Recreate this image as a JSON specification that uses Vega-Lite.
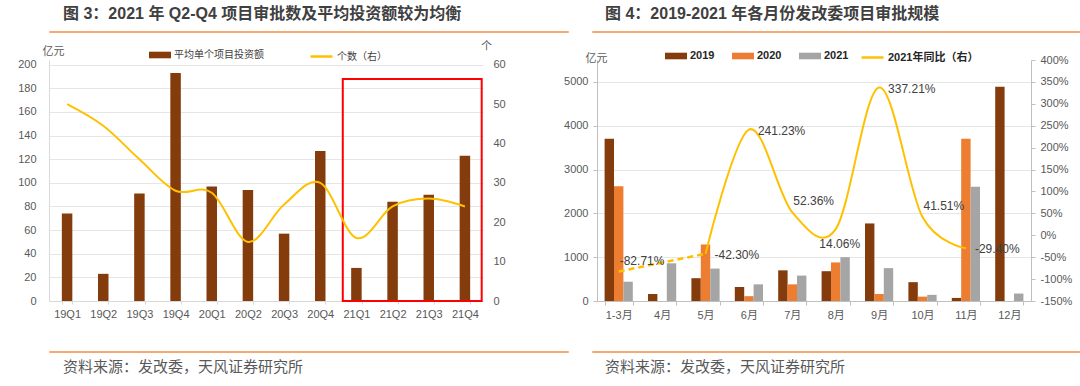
{
  "$schema": "https://vega.github.io/schema/vega-lite/v6.json",
  "padding": {"left": 8, "top": 5, "right": 0, "bottom": 0},
  "config": {
    "font": "Liberation Sans Narrow, Liberation Sans, Noto Sans CJK SC, sans-serif",
    "locale": {"number": {"decimal": ".", "thousands": ",", "grouping": [3], "currency": ["", ""], "minus": "-"}},
    "axis": {"labelColor": "#595959", "labelFontSize": 11, "titleColor": "#595959", "titleFontWeight": "normal", "titleFontSize": 11, "gridColor": "#e6e6e6", "domainColor": "#d9d9d9", "tickColor": "#d9d9d9", "labelOverlap": false},
    "legend": {"labelColor": "#404040", "labelFontSize": 10, "padding": 0}
  },
  "datasets": {
    "quarters": [
      {"q": "19Q1", "avg": 74, "n": 50},
      {"q": "19Q2", "avg": 23, "n": 44.5},
      {"q": "19Q3", "avg": 91, "n": 36},
      {"q": "19Q4", "avg": 193, "n": 28},
      {"q": "20Q1", "avg": 97, "n": 27.5},
      {"q": "20Q2", "avg": 94, "n": 15},
      {"q": "20Q3", "avg": 57, "n": 24.5},
      {"q": "20Q4", "avg": 127, "n": 30},
      {"q": "21Q1", "avg": 28, "n": 16},
      {"q": "21Q2", "avg": 84, "n": 24},
      {"q": "21Q3", "avg": 90, "n": 26},
      {"q": "21Q4", "avg": 123, "n": 24}
    ],
    "monthly": [
      {"m": "1-3月", "year": "2019", "v": 3700},
      {"m": "1-3月", "year": "2020", "v": 2620},
      {"m": "1-3月", "year": "2021", "v": 440},
      {"m": "4月", "year": "2019", "v": 160},
      {"m": "4月", "year": "2021", "v": 860},
      {"m": "5月", "year": "2019", "v": 520},
      {"m": "5月", "year": "2020", "v": 1290},
      {"m": "5月", "year": "2021", "v": 740},
      {"m": "6月", "year": "2019", "v": 320},
      {"m": "6月", "year": "2020", "v": 110},
      {"m": "6月", "year": "2021", "v": 380},
      {"m": "7月", "year": "2019", "v": 700},
      {"m": "7月", "year": "2020", "v": 380},
      {"m": "7月", "year": "2021", "v": 580},
      {"m": "8月", "year": "2019", "v": 680},
      {"m": "8月", "year": "2020", "v": 880},
      {"m": "8月", "year": "2021", "v": 1000},
      {"m": "9月", "year": "2019", "v": 1770},
      {"m": "9月", "year": "2020", "v": 160},
      {"m": "9月", "year": "2021", "v": 750},
      {"m": "10月", "year": "2019", "v": 430},
      {"m": "10月", "year": "2020", "v": 100},
      {"m": "10月", "year": "2021", "v": 140},
      {"m": "11月", "year": "2019", "v": 70},
      {"m": "11月", "year": "2020", "v": 3700},
      {"m": "11月", "year": "2021", "v": 2610},
      {"m": "12月", "year": "2019", "v": 4890},
      {"m": "12月", "year": "2021", "v": 170}
    ],
    "yoy": [
      {"m": "1-3月", "yoy": -0.8271},
      {"m": "5月", "yoy": -0.423},
      {"m": "6月", "yoy": 2.4123},
      {"m": "7月", "yoy": 0.5236},
      {"m": "8月", "yoy": 0.1406},
      {"m": "9月", "yoy": 3.3721},
      {"m": "10月", "yoy": 0.4151},
      {"m": "11月", "yoy": -0.294}
    ],
    "box": [{"first": "21Q1", "last": "21Q4", "top": 188, "base": 0}]
  },
  "spacing": 7,
  "align": "each",
  "vconcat": [
    {
      "hconcat": [
        {
          "width": 519, "height": 1,
          "view": {"stroke": "#f5a870", "strokeWidth": 1, "fill": null},
          "title": {"text": "图 3：2021 年 Q2-Q4 项目审批数及平均投资额较为均衡", "anchor": "start", "frame": "group", "dx": 14, "offset": 1, "baseline": "middle", "font": "Liberation Sans, Noto Sans CJK SC", "fontSize": 16, "fontWeight": "bold", "color": "#404040"},
          "data": {"values": []},
          "mark": "rule",
          "encoding": {}
        },
        {
          "width": 528, "height": 1,
          "view": {"stroke": "#f5a870", "strokeWidth": 1, "fill": null},
          "title": {"text": "图 4：2019-2021 年各月份发改委项目审批规模", "anchor": "start", "frame": "group", "dx": 13, "offset": 1, "baseline": "middle", "font": "Liberation Sans, Noto Sans CJK SC", "fontSize": 16, "fontWeight": "bold", "color": "#404040"},
          "data": {"values": []},
          "mark": "rule",
          "encoding": {}
        }
      ],
      "spacing": 22,
      "align": "each"
    },
    {
      "resolve": {
        "scale": {"color": "independent", "stroke": "independent"},
        "legend": {"color": "independent", "stroke": "independent"}
      },
      "hconcat": [
        {
          "width": 434, "height": 241,
          "view": {"stroke": null},
          "layer": [
            {
              "layer": [
                {
                  "data": {"name": "quarters"},
                  "mark": {"type": "bar"},
                  "encoding": {
                    "x": {"field": "q", "type": "nominal", "scale": {"paddingInner": 0.71, "paddingOuter": 0.355},
                          "axis": {"title": null, "labelAngle": 0, "tickBand": "extent", "tickSize": 3, "labelPadding": 4, "minExtent": 42, "domainColor": "#d9d9d9", "tickColor": "#d9d9d9", "labelOverlap": false}},
                    "y": {"field": "avg", "type": "quantitative", "scale": {"domain": [0, 204], "nice": false},
                          "axis": {"values": [0, 20, 40, 60, 80, 100, 120, 140, 160, 180, 200], "labelOverlap": false, "title": "亿元", "titleAngle": 0, "titleX": 4, "titleY": -9, "titleAlign": "center", "titleBaseline": "middle", "tickSize": 0, "labelPadding": 13, "minExtent": 41, "grid": true, "domainColor": "#d9d9d9"}},
                    "color": {"datum": "平均单个项目投资额", "type": "nominal", "scale": {"range": ["#843c0c"]},
                              "legend": {"orient": "none", "legendX": 100, "legendY": -16, "direction": "horizontal", "title": null, "symbolType": "M-1,-0.3H1V0.3H-1Z", "symbolSize": 484, "symbolStrokeWidth": 0, "labelOffset": 3, "labelFontSize": 10}}
                  }
                },
                {
                  "data": {"name": "box"},
                  "mark": {"type": "rect", "fillOpacity": 0, "stroke": "#ff0000", "strokeWidth": 2},
                  "encoding": {
                    "x": {"field": "first", "type": "nominal", "bandPosition": -0.8,
                          "axis": {"title": null, "labelAngle": 0, "tickBand": "extent", "tickSize": 3, "labelPadding": 4, "minExtent": 42, "domainColor": "#d9d9d9", "tickColor": "#d9d9d9", "labelOverlap": false}},
                    "x2": {"field": "last", "bandPosition": 2.1},
                    "y": {"field": "top", "type": "quantitative", "scale": {"domain": [0, 204], "nice": false},
                          "axis": {"values": [0, 20, 40, 60, 80, 100, 120, 140, 160, 180, 200], "labelOverlap": false, "title": "亿元", "titleAngle": 0, "titleX": 4, "titleY": -9, "titleAlign": "center", "titleBaseline": "middle", "tickSize": 0, "labelPadding": 13, "minExtent": 41, "grid": true, "domainColor": "#d9d9d9"}},
                    "y2": {"field": "base"}
                  }
                }
              ]
            },
            {
              "data": {"name": "quarters"},
              "mark": {"type": "line", "interpolate": "cardinal", "strokeWidth": 2},
              "encoding": {
                "x": {"field": "q", "type": "nominal",
                      "axis": {"title": null, "labelAngle": 0, "tickBand": "extent", "tickSize": 3, "labelPadding": 4, "minExtent": 42, "domainColor": "#d9d9d9", "tickColor": "#d9d9d9", "labelOverlap": false}},
                "y": {"field": "n", "type": "quantitative", "scale": {"domain": [0, 61.2], "nice": false},
                      "axis": {"orient": "right", "values": [0, 10, 20, 30, 40, 50, 60], "labelOverlap": false, "title": "个", "titleAngle": 0, "titleX": 3, "titleY": -14, "titleAlign": "center", "titleBaseline": "middle", "domain": false, "ticks": false, "grid": false, "labelPadding": 10, "minExtent": 44}},
                "stroke": {"datum": "个数（右）", "type": "nominal", "scale": {"range": ["#ffc000"]},
                           "legend": {"orient": "none", "legendX": 260, "legendY": -16, "direction": "horizontal", "title": null, "symbolType": "stroke", "symbolSize": 484, "symbolStrokeWidth": 2.5, "labelOffset": 3, "labelFontSize": 10}}
              }
            }
          ],
          "resolve": {"scale": {"y": "independent"}}
        },
        {
          "width": 434, "height": 241,
          "view": {"stroke": null},
          "layer": [
            {
              "data": {"name": "monthly"},
              "mark": {"type": "bar"},
              "encoding": {
                "x": {"field": "m", "type": "nominal", "sort": null,
                      "scale": {"domain": ["1-3月", "4月", "5月", "6月", "7月", "8月", "9月", "10月", "11月", "12月"], "paddingInner": 0.35, "paddingOuter": 0.175},
                      "axis": {"title": null, "labelAngle": 0, "tickBand": "extent", "tickSize": 4, "labelPadding": 4, "minExtent": 42, "domainColor": "#bfbfbf", "tickColor": "#bfbfbf", "labelOverlap": false}},
                "xOffset": {"field": "year", "type": "nominal"},
                "y": {"field": "v", "type": "quantitative", "scale": {"domain": [0, 5500], "nice": false},
                      "axis": {"values": [0, 1000, 2000, 3000, 4000, 5000], "format": "d", "labelOverlap": false, "title": "亿元", "titleAngle": 0, "titleX": -1, "titleY": -2, "titleAlign": "center", "titleBaseline": "middle", "tickSize": 4, "tickColor": "#bfbfbf", "domainColor": "#bfbfbf", "labelPadding": 5, "minExtent": 48, "grid": true}},
                "color": {"field": "year", "type": "nominal", "scale": {"range": ["#843c0c", "#ed7d31", "#a5a5a5"]},
                          "legend": {"orient": "none", "legendX": 68, "legendY": -15, "direction": "horizontal", "title": null, "symbolType": "M-1,-0.3H1V0.3H-1Z", "symbolSize": 484, "symbolStrokeWidth": 0, "labelOffset": 3, "labelFontSize": 11, "labelFontWeight": "bold", "labelColor": "#262626", "columnPadding": 17}}
              }
            },
            {
              "layer": [
                {
                  "data": {"name": "yoy"},
                  "transform": [{"filter": {"field": "m", "oneOf": ["1-3月", "5月"]}}],
                  "mark": {"type": "line", "strokeWidth": 2.5, "strokeDash": [6, 4]},
                  "encoding": {
                    "x": {"field": "m", "type": "nominal", "sort": null},
                    "y": {"field": "yoy", "type": "quantitative", "scale": {"domain": [-1.5, 4], "nice": false},
                          "axis": {"orient": "right", "values": [-1.5, -1, -0.5, 0, 0.5, 1, 1.5, 2, 2.5, 3, 3.5, 4], "format": ".0%", "labelOverlap": false, "title": null, "grid": false, "tickSize": 4, "tickColor": "#bfbfbf", "domainColor": "#bfbfbf", "labelPadding": 5}},
                    "stroke": {"datum": "2021年同比（右）", "type": "nominal", "scale": {"range": ["#ffc000"]},
                               "legend": {"orient": "none", "legendX": 263, "legendY": -15, "direction": "horizontal", "title": null, "symbolType": "stroke", "symbolSize": 484, "symbolStrokeWidth": 2.5, "labelOffset": 3, "labelFontSize": 11, "labelFontWeight": "bold", "labelColor": "#262626"}}
                  }
                },
                {
                  "data": {"name": "yoy"},
                  "transform": [{"filter": {"not": {"field": "m", "equal": "1-3月"}}}],
                  "mark": {"type": "line", "strokeWidth": 2, "interpolate": "cardinal"},
                  "encoding": {
                    "x": {"field": "m", "type": "nominal", "sort": null},
                    "y": {"field": "yoy", "type": "quantitative", "scale": {"domain": [-1.5, 4], "nice": false},
                          "axis": {"orient": "right", "values": [-1.5, -1, -0.5, 0, 0.5, 1, 1.5, 2, 2.5, 3, 3.5, 4], "format": ".0%", "labelOverlap": false, "title": null, "grid": false, "tickSize": 4, "tickColor": "#bfbfbf", "domainColor": "#bfbfbf", "labelPadding": 5}},
                    "stroke": {"datum": "2021年同比（右）", "type": "nominal"}
                  }
                },
                {
                  "data": {"name": "yoy"},
                  "transform": [{"filter": {"field": "m", "oneOf": ["5月", "6月", "9月", "11月"]}}],
                  "mark": {"type": "text", "align": "left", "baseline": "middle", "dx": 9, "dy": 1, "fontSize": 12, "color": "#404040"},
                  "encoding": {
                    "x": {"field": "m", "type": "nominal", "sort": null},
                    "y": {"field": "yoy", "type": "quantitative", "scale": {"domain": [-1.5, 4], "nice": false},
                          "axis": {"orient": "right", "values": [-1.5, -1, -0.5, 0, 0.5, 1, 1.5, 2, 2.5, 3, 3.5, 4], "format": ".0%", "labelOverlap": false, "title": null, "grid": false, "tickSize": 4, "tickColor": "#bfbfbf", "domainColor": "#bfbfbf", "labelPadding": 5}},
                    "text": {"field": "yoy", "type": "quantitative", "format": ".2%"}
                  }
                },
                {
                  "data": {"name": "yoy"},
                  "transform": [{"filter": {"field": "m", "oneOf": ["1-3月", "7月", "10月"]}}],
                  "mark": {"type": "text", "align": "left", "baseline": "middle", "dx": 1, "dy": -11, "fontSize": 12, "color": "#404040"},
                  "encoding": {
                    "x": {"field": "m", "type": "nominal", "sort": null},
                    "y": {"field": "yoy", "type": "quantitative", "scale": {"domain": [-1.5, 4], "nice": false},
                          "axis": {"orient": "right", "values": [-1.5, -1, -0.5, 0, 0.5, 1, 1.5, 2, 2.5, 3, 3.5, 4], "format": ".0%", "labelOverlap": false, "title": null, "grid": false, "tickSize": 4, "tickColor": "#bfbfbf", "domainColor": "#bfbfbf", "labelPadding": 5}},
                    "text": {"field": "yoy", "type": "quantitative", "format": ".2%"}
                  }
                },
                {
                  "data": {"name": "yoy"},
                  "transform": [{"filter": {"field": "m", "oneOf": ["8月"]}}],
                  "mark": {"type": "text", "align": "center", "baseline": "middle", "dx": 4, "dy": 15, "fontSize": 12, "color": "#404040"},
                  "encoding": {
                    "x": {"field": "m", "type": "nominal", "sort": null},
                    "y": {"field": "yoy", "type": "quantitative", "scale": {"domain": [-1.5, 4], "nice": false},
                          "axis": {"orient": "right", "values": [-1.5, -1, -0.5, 0, 0.5, 1, 1.5, 2, 2.5, 3, 3.5, 4], "format": ".0%", "labelOverlap": false, "title": null, "grid": false, "tickSize": 4, "tickColor": "#bfbfbf", "domainColor": "#bfbfbf", "labelPadding": 5}},
                    "text": {"field": "yoy", "type": "quantitative", "format": ".2%"}
                  }
                }
              ]
            }
          ],
          "resolve": {"scale": {"y": "independent"}}
        }
      ],
      "spacing": 22,
      "align": "each"
    },
    {
      "hconcat": [
        {
          "width": 519, "height": 1,
          "view": {"stroke": "#f5a870", "strokeWidth": 1, "fill": null},
          "title": {"text": "资料来源：发改委，天风证券研究所", "orient": "bottom", "anchor": "start", "frame": "group", "dx": 14, "offset": 15, "baseline": "middle", "font": "Noto Sans CJK SC", "fontSize": 15, "fontWeight": "normal", "color": "#595959"},
          "data": {"values": []},
          "mark": "rule",
          "encoding": {}
        },
        {
          "width": 528, "height": 1,
          "view": {"stroke": "#f5a870", "strokeWidth": 1, "fill": null},
          "title": {"text": "资料来源：发改委，天风证券研究所", "orient": "bottom", "anchor": "start", "frame": "group", "dx": 13, "offset": 15, "baseline": "middle", "font": "Noto Sans CJK SC", "fontSize": 15, "fontWeight": "normal", "color": "#595959"},
          "data": {"values": []},
          "mark": "rule",
          "encoding": {}
        }
      ],
      "spacing": 22,
      "align": "each"
    }
  ]
}
